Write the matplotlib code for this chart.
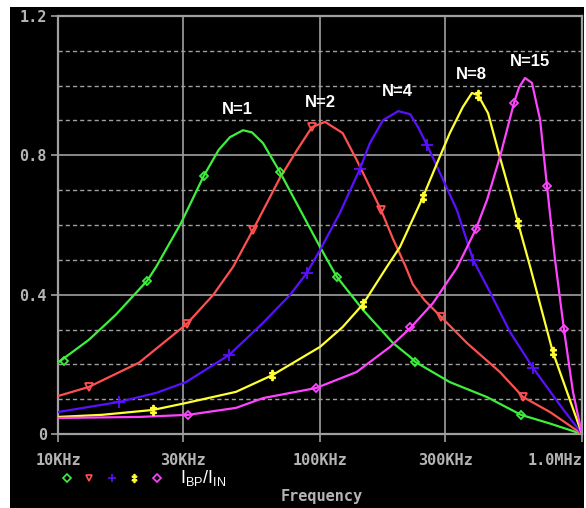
import matplotlib
matplotlib.use("Agg")
import matplotlib.pyplot as plt
from matplotlib.lines import Line2D
from matplotlib.patches import Rectangle

plt.rcParams['mathtext.fontset'] = 'custom'
plt.rcParams['mathtext.rm'] = 'Liberation Sans'

# frequency in kHz
green_f = [10, 13.1, 16.6, 21.9, 23.7, 29.5, 36, 41, 45.3, 50.8, 55, 60.6, 70.3, 100, 112, 116,
           146, 190, 221, 231, 313, 434, 585, 755, 1000]
green_v = [0.205, 0.27, 0.342, 0.44, 0.48, 0.606, 0.741, 0.815, 0.852, 0.872, 0.866, 0.835, 0.752,
           0.537, 0.471, 0.451, 0.356, 0.261, 0.221, 0.207, 0.149, 0.106, 0.055, 0.03, 0.0]
red_f = [10, 13.1, 20.4, 31, 39.1, 46.6, 55.5, 70.3, 81.7, 93.2, 104.5, 122, 138, 171, 190, 211,
         226, 250, 290, 364, 486, 596, 755, 1000]
red_v = [0.109, 0.135, 0.205, 0.316, 0.399, 0.48, 0.586, 0.735, 0.815, 0.881, 0.896, 0.864, 0.787,
         0.643, 0.56, 0.485, 0.43, 0.385, 0.336, 0.261, 0.178, 0.106, 0.063, 0.0]
blue_f = [10, 17.1, 23.7, 30.8, 45, 60.6, 76.8, 89, 100, 119, 142, 155, 174, 199, 221, 237, 256,
          280, 333, 384, 445, 531, 650, 824, 1000]
blue_v = [0.063, 0.092, 0.118, 0.149, 0.227, 0.319, 0.399, 0.462, 0.528, 0.634, 0.761, 0.835, 0.901,
          0.927, 0.918, 0.88, 0.83, 0.767, 0.643, 0.5, 0.408, 0.293, 0.19, 0.083, 0.0]
yellow_f = [10, 14.7, 23, 30.8, 47.8, 65.8, 100, 122, 146, 180, 202, 247, 280, 313, 351, 380, 401,
            438, 486, 531, 570, 634, 774, 1000]
yellow_v = [0.049, 0.055, 0.069, 0.089, 0.121, 0.169, 0.25, 0.307, 0.373, 0.48, 0.537, 0.68, 0.778,
            0.864, 0.939, 0.979, 0.973, 0.921, 0.795, 0.692, 0.606, 0.48, 0.235, 0.0]
mag_f = [10, 20.4, 31.4, 47.8, 60.6, 96.6, 138, 185, 221, 270, 333, 394, 434, 486, 550, 575, 606,
         644, 692, 735, 789, 853, 924, 1000]
mag_v = [0.046, 0.049, 0.055, 0.075, 0.103, 0.132, 0.178, 0.25, 0.304, 0.376, 0.477, 0.589, 0.672,
         0.795, 0.95, 0.995, 1.022, 1.008, 0.902, 0.712, 0.5, 0.301, 0.12, 0.0]

# marker points on each trace
green_mf = [10.5, 21.9, 36, 70.3, 116, 231, 585]
green_mv = [0.21, 0.44, 0.741, 0.752, 0.451, 0.207, 0.055]
red_mf = [13.1, 31, 55.5, 93.2, 171, 290, 596]
red_mv = [0.135, 0.316, 0.586, 0.881, 0.643, 0.336, 0.106]
blue_mf = [17.1, 45, 89, 142, 256, 384, 650]
blue_mv = [0.092, 0.227, 0.462, 0.761, 0.83, 0.5, 0.19]
yellow_mf = [23, 65.8, 146, 247, 401, 570, 774]
yellow_mv = [0.069, 0.169, 0.373, 0.68, 0.973, 0.606, 0.235]
mag_mf = [31.4, 96.6, 221, 394, 550, 735, 853]
mag_mv = [0.055, 0.132, 0.307, 0.589, 0.95, 0.712, 0.301]

labels = ['N=1', 'N=2', 'N=4', 'N=8', 'N=15']
label_f = [48.2, 100, 197, 377, 634]
label_v = [0.933, 0.953, 0.982, 1.031, 1.068]

x_ticks = [10, 30, 100, 300, 1000]
x_ticklabels = ['10KHz', '30KHz', '100KHz', '300KHz', '1.0MHz']
y_ticks = [0, 0.4, 0.8, 1.2]
y_ticklabels = ['0', '0.4', '0.8', '1.2']

GREY = '#b4b4b4'
GRID = '#a0a0a0'
mono = dict(family='DejaVu Sans Mono', weight='bold', size=11, color=GREY)

W, H = 586, 508
fig = plt.figure(figsize=(W / 100, H / 100), dpi=100, facecolor='white')
fig.patches.append(Rectangle((10 / W, 0), 574 / W, 501 / H, transform=fig.transFigure,
                             facecolor='black', edgecolor='none', zorder=-10))
ax = fig.add_axes([58 / W, (H - 434) / H, 524 / W, 418 / H])
ax.set_facecolor('black')
ax.set_xscale('log')
ax.set_xlim(10, 1000)
ax.set_ylim(0, 1.2)

# grid
for v in [0.1, 0.2, 0.3, 0.5, 0.6, 0.7, 0.9, 1.0, 1.1]:
    ax.axhline(v, color=GRID, lw=1, ls=(0, (3, 2.2)), zorder=1)
for v in [0.4, 0.8]:
    ax.axhline(v, color=GRID, lw=1.2, zorder=1)
for f in [30, 100, 300]:
    ax.axvline(f, color=GRID, lw=1.2, zorder=1)

traces = [
    (green_f, green_v, green_mf, green_mv, '#3cf03c', 'D', 4.5),
    (red_f, red_v, red_mf, red_mv, '#ff5050', 'v', 6),
    (blue_f, blue_v, blue_mf, blue_mv, '#5a10ff', '+', 8),
    (yellow_f, yellow_v, yellow_mf, yellow_mv, '#ffff33', '$‡$', 7),
    (mag_f, mag_v, mag_mf, mag_mv, '#ff44ff', 'D', 4.5),
]
for f, v, mf, mv, c, m, ms in traces:
    ax.plot(f, v, color=c, lw=1.6, zorder=3)
    ax.plot(mf, mv, ls='none', marker=m, ms=ms, mfc='none', mec=c, mew=1.3, zorder=4)

for t, f, v in zip(labels, label_f, label_v):
    ax.text(f, v, t, color='white', fontsize=12, fontweight='bold', family='Liberation Sans',
            ha='center', va='center', zorder=5)

for s in ax.spines.values():
    s.set_color(GRID)
    s.set_linewidth(1.6)

ax.set_xticks(x_ticks)
ax.set_xticklabels(x_ticklabels, fontdict=mono)
ax.set_xticks([], minor=True)
ax.set_yticks(y_ticks)
ax.set_yticklabels(y_ticklabels, fontdict=mono)
ax.tick_params(axis='x', length=6, width=1.2, color=GRID, pad=8)
ax.tick_params(axis='y', length=5, width=1.2, color=GRID, pad=3)
ax.get_xticklabels()[-1].set_horizontalalignment('right')

# legend row
ly = (H - 478) / H
for (f, v, mf, mv, c, m, ms), px in zip(traces, [67, 89, 112, 134, 157]):
    fig.add_artist(Line2D([px / W], [ly], ls='none', marker=m, ms=ms * 0.8, mfc='none', mec=c,
                          mew=1.2, transform=fig.transFigure))
fig.text(180 / W, ly, r'$\mathrm{I_{BP}/I_{IN}}$', color='white', fontsize=13,
         ha='left', va='center')
fig.text(322 / W, (H - 497) / H, 'Frequency', ha='center', va='center', **mono)

fig.savefig('out.png', dpi=100, facecolor='white')
